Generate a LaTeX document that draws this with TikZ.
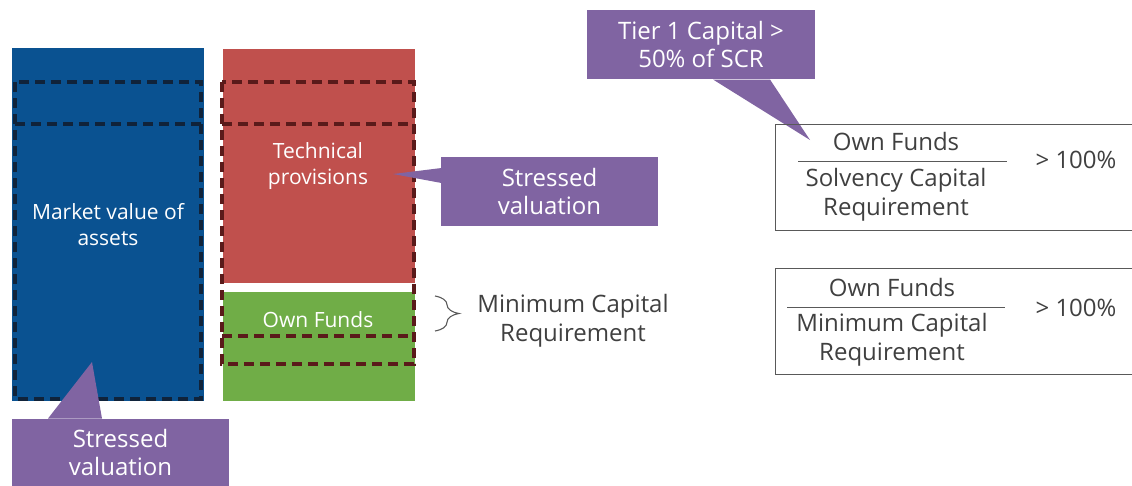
\documentclass[tikz,border=0pt]{standalone}
\usepackage{fontspec}
\setmainfont{Open Sans}
\usetikzlibrary{calc,decorations.pathreplacing}
\definecolor{cblue}{HTML}{0A5291}
\definecolor{cred}{HTML}{C0504D}
\definecolor{cgreen}{HTML}{70AD47}
\definecolor{cpurple}{HTML}{8064A2}
\definecolor{bdashc}{HTML}{10233A}
\definecolor{rdashc}{HTML}{5A1A1A}
\definecolor{txtgray}{HTML}{404040}
\definecolor{boxgray}{HTML}{595959}
\begin{document}
\begin{tikzpicture}[x=1pt,y=-1pt,
  blk/.style={inner sep=0pt,outer sep=0pt,anchor=north west},
  wtxt/.style={text=white,align=center,font=\fontsize{21}{26}\selectfont},
  ptxt/.style={text=white,align=center,font=\fontsize{24}{28}\selectfont},
  gtxt/.style={text=txtgray,align=center,font=\fontsize{24}{29}\selectfont},
  bdash/.style={draw=bdashc,line width=3.2pt,dash pattern=on 10pt off 6pt},
  rdash/.style={draw=rdashc,line width=3.2pt,dash pattern=on 10pt off 6pt},
  callbox/.style={fill=cpurple,inner sep=0pt,outer sep=0pt},
  ratiobox/.style={draw=boxgray,line width=1pt,inner sep=0pt,outer sep=0pt,anchor=north west}]
\useasboundingbox (0,0) rectangle (1132,485);
% balance sheet blocks
\node[blk,fill=cblue,minimum width=192pt,minimum height=353pt] (assets) at (12,48) {};
\node[blk,fill=cred,minimum width=192pt,minimum height=234pt] (tp) at (223,49) {};
\node[blk,fill=cgreen,minimum width=192pt,minimum height=109pt] (of) at (223,292) {};
% dashed stressed outlines
\draw[bdash] (15,82) rectangle (201,399);
\draw[bdash] (15,124) -- (201,124);
\draw[rdash] (222,82) rectangle (414,364);
\draw[rdash] (222,124) -- (414,124);
\draw[rdash] (222,336) -- (414,336);
% labels
\node[wtxt] (assetstxt) at (108,225) {Market value of\\assets};
\node[wtxt] (tptxt) at (318,166) {Technical\\provisions};
\node[wtxt] (oftxt) at (318,320) {Own Funds};
% callout right
\node[callbox,minimum width=217pt,minimum height=69pt] (sv1) at (549.5,191.5) {};
\node[ptxt] (sv1txt) at (sv1.center) {Stressed\\valuation};
\coordinate (tip1) at (393,174);
\fill[cpurple] ($(sv1.north west)+(0.5,11)$) -- (tip1) -- ($(sv1.north west)+(0.5,26)$) -- cycle;
% callout bottom
\node[callbox,minimum width=217pt,minimum height=70pt] (sv2) at (120.5,454) {};
\node[ptxt] (sv2txt) at (120.5,452) {Stressed\\valuation};
\coordinate (tip2) at (92,362);
\fill[cpurple] ($(sv2.north west)+(36,-0.5)$) -- (tip2) -- ($(sv2.north west)+(90,-0.5)$) -- cycle;
% callout tier 1
\node[callbox,minimum width=228pt,minimum height=69pt] (tier) at (701,44.5) {};
\node[ptxt] (tiertxt) at (tier.center) {Tier 1 Capital >\\50\% of SCR};
\coordinate (tip3) at (810,140);
\fill[cpurple] ($(tier.south west)+(126,0.5)$) -- (tip3) -- ($(tier.south west)+(183,0.5)$) -- cycle;
% MCR brace
\coordinate (bt) at (435,296);
\coordinate (bb) at (435,331);
\draw[boxgray,line width=1.1pt,decorate,decoration={brace,amplitude=24pt}] (bt) -- (bb);
\node[gtxt] (mcrtxt) at (573,321) {Minimum Capital\\Requirement};
% ratio boxes
\node[ratiobox,minimum width=370pt,minimum height=106pt] (scrbox) at (775,124) {};
\node[gtxt] (scrnum) at (896,141) {Own Funds};
\draw[boxgray,line width=1pt] (798,161) -- (1007,161);
\node[gtxt] (scrden) at (896,195) {Solvency Capital\\Requirement};
\node[gtxt] (scrpct) at (1076,160) {> 100\%};
\node[ratiobox,minimum width=370pt,minimum height=106pt] (mcrbox) at (775,268) {};
\node[gtxt] (mcrnum) at (892,287) {Own Funds};
\draw[boxgray,line width=1pt] (787,307) -- (1005,307);
\node[gtxt] (mcrden) at (892,340) {Minimum Capital\\Requirement};
\node[gtxt] (mcrpct) at (1076,308) {> 100\%};
\end{tikzpicture}
\end{document}
